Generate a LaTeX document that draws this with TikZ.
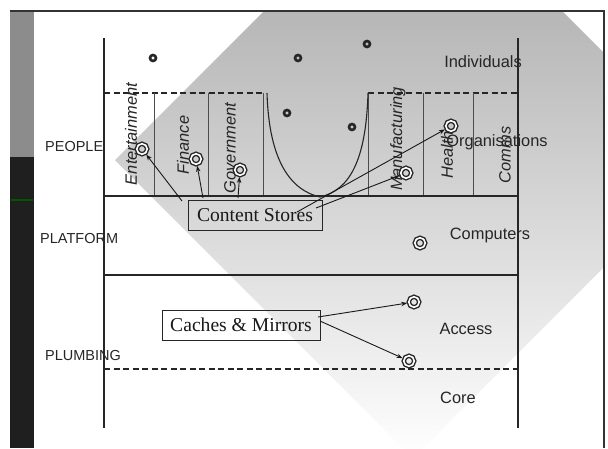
\documentclass[tikz,border=0pt]{standalone}
\usepackage{fontspec}
\setmainfont{Liberation Serif}
\setsansfont{Liberation Sans}
\usetikzlibrary{arrows.meta}
\begin{document}
\begin{tikzpicture}[x=1pt,y=-1pt,
  ln/.style={draw=black!85,line width=1.1pt},
  thin/.style={draw=black!70,line width=0.6pt},
  dsh/.style={draw=black!85,line width=1.1pt,dash pattern=on 6pt off 3.5pt},
  lefttxt/.style={anchor=west,inner sep=0,text=black!85,font=\sffamily\fontsize{14.5}{16}\selectfont},
  righttxt/.style={inner sep=0,text=black!85,font=\sffamily\fontsize{16.4}{18}\selectfont},
  rottxt/.style={inner sep=0,rotate=90,text=black!85,font=\sffamily\itshape\fontsize{16.4}{18}\selectfont},
  boxtxt/.style={draw=black!85,line width=0.9pt,inner sep=0,text=black!90,font=\fontsize{19.6}{22}\selectfont},
  smallring/.style={circle,draw=black!85,line width=2.6pt,minimum size=6pt,inner sep=0},
  bigring/.style={circle,draw=black!85,double=white,double distance=1.6pt,line width=1.4pt,minimum size=10.5pt,inner sep=0},
  arr/.style={draw=black!90,line width=0.9pt,-{Stealth[length=6pt,width=4.5pt]},shorten >=1pt}
]
\useasboundingbox (0,0) rectangle (608,448);
\fill[white] (0,0) rectangle (608,448);
% shaded diamond
\begin{scope}
  \clip (34,11) rectangle (604,448);
  \shade[top color=black!38,bottom color=white] (115,160) -- (413,-138) -- (711,160) -- (413,458) -- cycle;
\end{scope}
% left bar and frame
\fill[black!45] (10,12) rectangle (34,157);
\fill[black!88] (10,157) rectangle (34,448);
\draw[green!35!black,line width=1.2pt] (11,200) -- (33,200);
\draw[black!80,line width=1.5pt] (10,11) -- (604,11) -- (604,448);

% main structure
\draw[ln] (104,38) -- (104,428);
\draw[ln] (518,38) -- (518,428);
\draw[dsh] (104,93) -- (263,93);
\draw[dsh] (368,93) -- (518,93);
\draw[thin] (263,93) -- (263,196);
\draw[thin] (368,93) -- (368,196);
\draw[thin] (154,93) -- (154,196);
\draw[thin] (208,93) -- (208,196);
\draw[thin] (423,93) -- (423,196);
\draw[thin] (473,93) -- (473,196);
\draw[ln] (267,93) .. controls (269,160) and (290,190) .. (320,197) .. controls (350,190) and (366,160) .. (368,93);
\draw[ln] (104,196) -- (518,196);
\draw[ln] (104,275) -- (518,275);
\draw[dsh] (104,369) -- (518,369);

% left labels
\node[lefttxt] (people) at (45,147) {PEOPLE};
\node[lefttxt] (platform) at (40,239) {PLATFORM};
\node[lefttxt] (plumbing) at (45,356) {PLUMBING};

% right labels
\node[righttxt] (indiv) at (483,62) {Individuals};
\node[righttxt] (orgs) at (497,142) {Organisations};
\node[righttxt] (comp) at (490,235) {Computers};
\node[righttxt] (access) at (466,329) {Access};
\node[righttxt] (core) at (458,398) {Core};

% rotated sector labels
\node[rottxt] (tEnt) at (131,134) {Entertainment};
\node[rottxt] (tFin) at (183,145) {Finance};
\node[rottxt] (tGov) at (230,148) {Government};
\node[rottxt] (tMan) at (398,139) {Manufacturing};
\node[rottxt] (tHea) at (447,155) {Health};
\node[rottxt] (tCom) at (505,155) {Comms};

% markers
\node[smallring] (m1) at (153,58) {};
\node[smallring] (m2) at (298,58) {};
\node[smallring] (m3) at (367,44) {};
\node[smallring] (m4) at (287,113) {};
\node[smallring] (m5) at (352,127) {};
\node[bigring] (mEnt) at (142,149) {};
\node[bigring] (mFin) at (196,159) {};
\node[bigring] (mGov) at (240,170) {};
\node[bigring] (mMan) at (406,173) {};
\node[bigring] (mHea) at (451,126) {};
\node[bigring] (mComp) at (420,243) {};
\node[bigring] (mAcc1) at (414,302) {};
\node[bigring] (mAcc2) at (409,361) {};

% boxes
\node[boxtxt,minimum width=134pt,minimum height=30pt] (cs) at (255,215) {Content Stores};
\node[boxtxt,minimum width=158pt,minimum height=30pt] (cm) at (241,325) {Caches \& Mirrors};

% arrow start points
\coordinate (sEnt) at (182,201);
\coordinate (sFin) at (203,198);
\coordinate (sGov) at (238,198);
\coordinate (sHea) at (297,212);
\coordinate (sMan) at (316,208);
\coordinate (sAcc1) at (318,317);
\coordinate (sAcc2) at (320,321);

\draw[arr] (sEnt) -- (mEnt);
\draw[arr] (sFin) -- (mFin);
\draw[arr] (sGov) -- (mGov);
\draw[arr] (sHea) -- (mHea);
\draw[arr] (sMan) -- (mMan);
\draw[arr] (sAcc1) -- (mAcc1);
\draw[arr] (sAcc2) -- (mAcc2);
\end{tikzpicture}
\end{document}
